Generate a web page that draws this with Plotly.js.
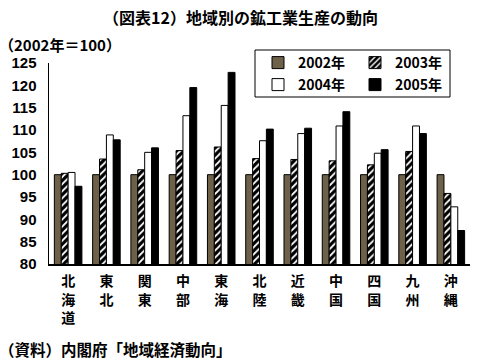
<!DOCTYPE html>
<html><head><meta charset="utf-8">
<script src="https://cdn.plot.ly/plotly-3.0.1.min.js"></script>
<style>html,body{margin:0;padding:0;background:#fff;}#chart{width:483px;height:359px;}</style>
</head><body><div id="chart"></div>
<script>
const categories = ['北<br>海<br>道','東<br>北','関<br>東','中<br>部','東<br>海','北<br>陸','近<br>畿','中<br>国','四<br>国','九<br>州','沖<br>縄'];
const seriesNames = ['2002年','2003年','2004年','2005年'];
const v2002 = [100,100,100,100,100,100,100,100,100,100,100];
const v2003 = [100.3,103.5,101.1,105.4,106.2,103.6,103.4,103.1,102.2,105.2,95.8];
const v2004 = [100.5,108.9,105.0,113.2,115.5,107.6,109.2,110.9,104.8,110.9,92.8];
const v2005 = [97.4,107.8,106.0,119.5,122.9,110.2,110.4,114.1,105.6,109.2,87.5];
const yTicks = [80,85,90,95,100,105,110,115,120,125];

const F = '"Noto Sans CJK JP", "Noto Sans", sans-serif';
const line = {color:'#000', width:1};
const traces = [
  {type:'bar', name:seriesNames[0], x:categories, y:v2002, legend:'legend',
   marker:{color:'#6e6149', line:line}},
  {type:'bar', name:seriesNames[1], x:categories, y:v2003, legend:'legend',
   marker:{color:'#000', line:line, pattern:{shape:'/', fgcolor:'#fff', bgcolor:'#000', size:5, solidity:0.35}}},
  {type:'bar', name:seriesNames[2], x:categories, y:v2004, legend:'legend2',
   marker:{color:'#fff', line:line}},
  {type:'bar', name:seriesNames[3], x:categories, y:v2005, legend:'legend2',
   marker:{color:'#000', line:line}}
];
traces.forEach(t=>{t.hoverinfo='skip';});

const L = 49, R = 13, T = 63, B = 95;
const W = 483, H = 359;
const pw = W-L-R, ph = H-T-B;
const px2x = p => (p-L)/pw, px2y = p => (H-B-p)/ph;

const legendBase = {
  orientation:'h', xref:'paper', yref:'paper', xanchor:'left', yanchor:'top',
  entrywidth:52, entrywidthmode:'pixels', bgcolor:'rgba(0,0,0,0)', borderwidth:0,
  font:{family:F, size:14, color:'#000', weight:'bold'}, itemwidth:30, tracegroupgap:0
};

const layout = {
  width:W, height:H, margin:{l:L, r:R, t:T, b:B, autoexpand:false},
  paper_bgcolor:'#fff', plot_bgcolor:'#fff',
  font:{family:F, color:'#000'},
  barmode:'group', bargap:0.28, bargroupgap:0,
  showlegend:true,
  legend:Object.assign({}, legendBase, {x:px2x(258), y:px2y(47)}),
  legend2:Object.assign({}, legendBase, {x:px2x(258), y:px2y(69)}),
  xaxis:{type:'category', showline:true, linecolor:'#000', linewidth:1.5, ticks:'',
    tickfont:{family:F, size:14, color:'#000', weight:'bold'}, ticklabelstandoff:4,
    showgrid:false, zeroline:false, fixedrange:true},
  yaxis:{range:[80,125], tickvals:yTicks, ticktext:yTicks.map(String), showline:true, linecolor:'#000', linewidth:1.5,
    ticks:'', showgrid:false, zeroline:false, ticklabelstandoff:8,
    tickfont:{family:'"Liberation Sans", Arial, sans-serif', size:15, color:'#000', weight:'bold'}, fixedrange:true},
  shapes:[{type:'rect', xref:'paper', yref:'paper', x0:px2x(255), x1:px2x(450), y0:px2y(97), y1:px2y(50),
    line:{color:'#000', width:1}, fillcolor:'rgba(255,255,255,0)', layer:'below'}],
  annotations:[
    {text:'（図表12）地域別の鉱工業生産の動向', xref:'paper', yref:'paper', x:px2x(240), y:px2y(17), xanchor:'center', yanchor:'middle',
     showarrow:false, font:{family:F, size:16, color:'#000', weight:'bold'}},
    {text:'（2002年＝100）', xref:'paper', yref:'paper', x:px2x(-3), y:px2y(45), xanchor:'left', yanchor:'middle',
     showarrow:false, font:{family:F, size:15, color:'#000', weight:'bold'}},
    {text:'（資料）内閣府「地域経済動向」', xref:'paper', yref:'paper', x:px2x(-3), y:px2y(349), xanchor:'left', yanchor:'middle',
     showarrow:false, font:{family:F, size:15.5, color:'#000', weight:'bold'}}
  ]
};
Plotly.newPlot('chart', traces, layout, {displayModeBar:false, staticPlot:true});
</script></body></html>
